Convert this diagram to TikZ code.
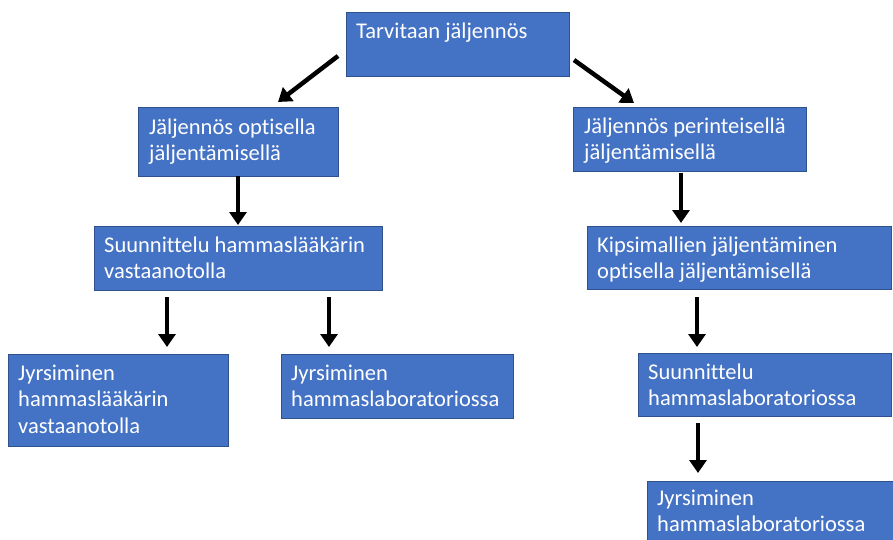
\documentclass[tikz,border=0pt]{standalone}
\usepackage{fontspec}
\setmainfont{Carlito}[Ligatures=NoCommon]
\usetikzlibrary{arrows.meta}
\definecolor{boxfill}{HTML}{4472C4}
\definecolor{boxline}{HTML}{2F528F}
\begin{document}
\begin{tikzpicture}[x=1pt,y=-1pt,
  box/.style={draw=boxline, fill=boxfill, line width=1.3pt, anchor=north west, inner sep=0pt},
  txt/.style={anchor=north west, inner sep=0pt, text=white, font=\fontsize{22.5}{26.3}\selectfont, align=left},
  arr/.style={line width=4.5pt, -{Triangle[width=17pt,length=13pt]}}]
\useasboundingbox (0,0) rectangle (893,540);
% boxes
\node[box, minimum width=223pt, minimum height=64pt] (b1) at (346,12) {};
\node[box, minimum width=200pt, minimum height=69pt] (b2) at (138,107) {};
\node[box, minimum width=233pt, minimum height=64pt] (b3) at (573,107) {};
\node[box, minimum width=288pt, minimum height=64pt] (b4) at (94,226) {};
\node[box, minimum width=304pt, minimum height=63pt] (b5) at (587,226) {};
\node[box, minimum width=220pt, minimum height=92pt] (b6) at (8,354) {};
\node[box, minimum width=232pt, minimum height=64pt] (b7) at (281,354) {};
\node[box, minimum width=253pt, minimum height=63pt] (b8) at (638,353) {};
\node[box, minimum width=260pt, minimum height=80pt] (b9) at (647,481) {};
% texts
\node[txt] (t1) at (356,12+7.5) {\strut Tarvitaan jäljennös};
\node[txt] (t2) at (149,107+9) {\strut Jäljennös optisella\\jäljentämisellä};
\node[txt] (t3) at (584,107+8) {\strut Jäljennös perinteisellä\\jäljentämisellä};
\node[txt] (t4) at (104,226+8) {\strut Suunnittelu hammaslääkärin\\vastaanotolla};
\node[txt] (t5) at (597,226+8) {\strut Kipsimallien jäljentäminen\\optisella jäljentämisellä};
\node[txt] (t6) at (18,354+8) {\strut Jyrsiminen\\hammaslääkärin\\vastaanotolla};
\node[txt] (t7) at (291,354+8) {\strut Jyrsiminen\\hammaslaboratoriossa};
\node[txt] (t8) at (648,353+8) {\strut Suunnittelu\\hammaslaboratoriossa};
\node[txt] (t9) at (657,481+6) {\strut Jyrsiminen\\hammaslaboratoriossa};
% arrow end points
\coordinate (a1s) at (338,56);  \coordinate (a1e) at (278,102);
\coordinate (a2s) at (574,60);  \coordinate (a2e) at (634,103);
\coordinate (a3s) at (238,176); \coordinate (a3e) at (238,225);
\coordinate (a4s) at (681,173); \coordinate (a4e) at (681,223);
\coordinate (a5s) at (167,297); \coordinate (a5e) at (167,347);
\coordinate (a6s) at (329,297); \coordinate (a6e) at (329,347);
\coordinate (a7s) at (697,297); \coordinate (a7e) at (697,347);
\coordinate (a8s) at (698,423); \coordinate (a8e) at (698,473);
\foreach \i in {1,...,8} {\draw[arr] (a\i s) -- (a\i e);}
\end{tikzpicture}
\end{document}
